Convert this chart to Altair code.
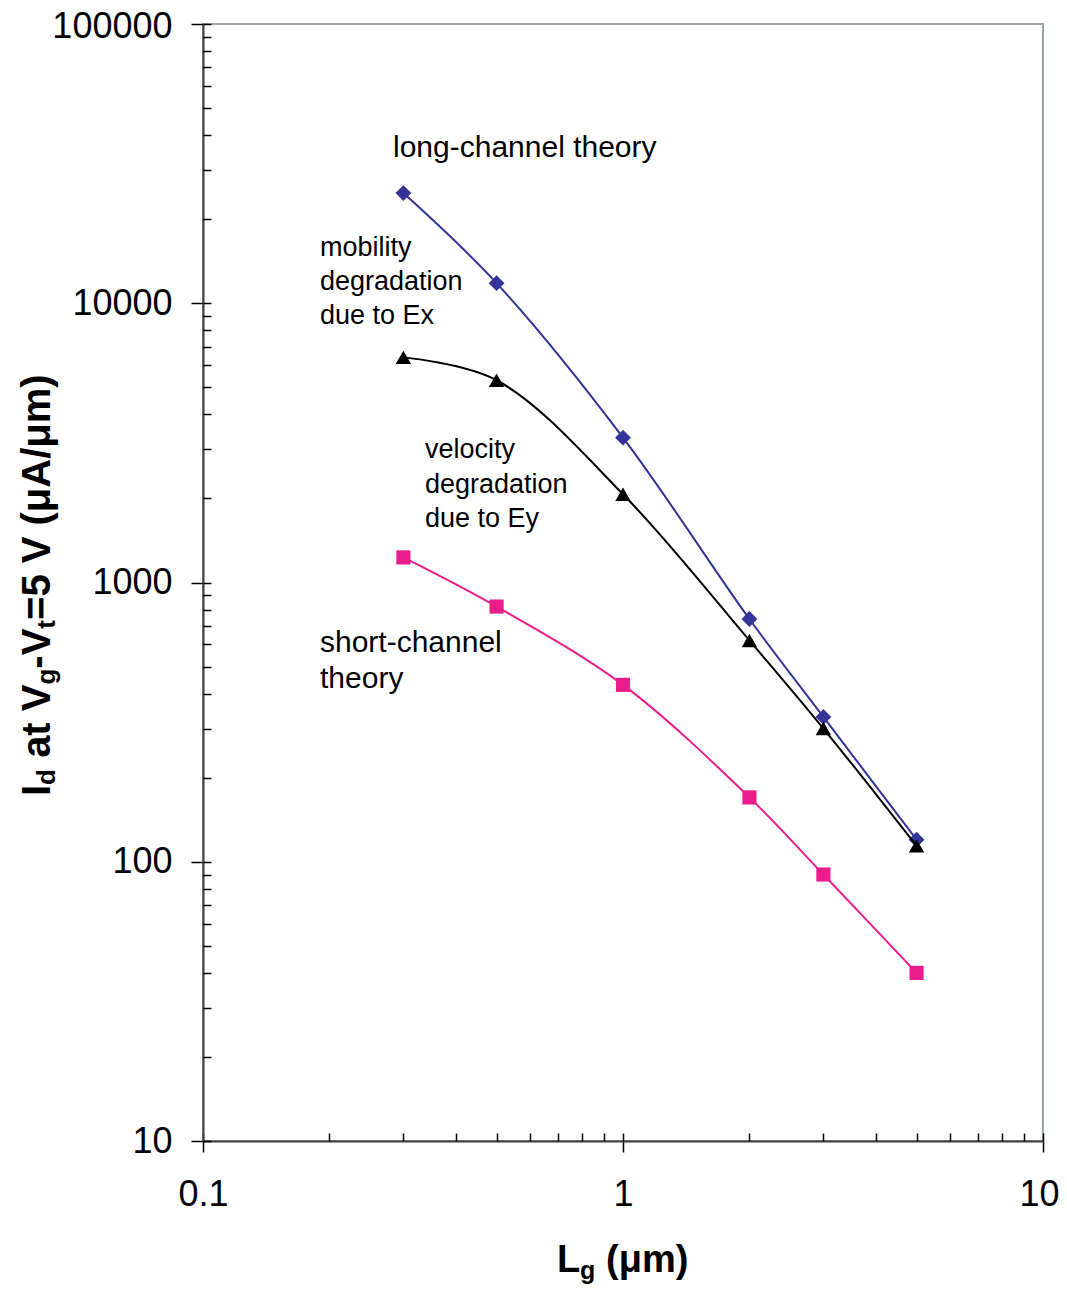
import altair as alt
import pandas as pd

# ---- data ----
lg_um = [0.3, 0.5, 1, 2, 3, 5]
id_long_channel = [24800, 11800, 3300, 740, 330, 120]
id_mobility_velocity = [6400, 5300, 2070, 620, 300, 114]
id_short_channel = [1230, 820, 430, 170, 90, 40]

series_names = ["long-channel theory", "mobility/velocity degradation", "short-channel theory"]
series_values = [id_long_channel, id_mobility_velocity, id_short_channel]

x_major = [0.1, 1, 10]
y_major = [10, 100, 1000, 10000, 100000]

# styles
colors = ["#333399", "#000000", "#EC1C8C"]
shapes = ["diamond", "triangle-up", "square"]
sizes = [250, 240, 200]

W, H = 840, 1117
FONT = "Liberation Sans"

rows = []
for name, vals in zip(series_names, series_values):
    for x, y in zip(lg_um, vals):
        rows.append({"series": name, "Lg": x, "Id": y})
df = pd.DataFrame(rows)

x_minor = [k * 10 ** e for e in (-1, 0) for k in range(1, 10)] + [10]
y_minor = [k * 10 ** e for e in (1, 2, 3, 4) for k in range(1, 10)] + [100000]

xs = alt.Scale(type="log", domain=[0.1, 10], nice=False)
ys = alt.Scale(type="log", domain=[10, 100000], nice=False)

x_axis_main = alt.Axis(orient="bottom", values=x_major, format="~g", title=None, grid=False,
                       tickSize=11, tickWidth=1.5, tickColor="#000000",
                       domainColor="#404040", domainWidth=2,
                       labelFontSize=36, labelFont=FONT, labelColor="#000000",
                       labelPadding=25, labelFlush=False, labelOverlap=False,
                       labelOffset={"condition": {"test": "datum.value == 10", "value": -4}, "value": 0})
y_axis_main = alt.Axis(orient="left", values=y_major, format="d", title=None, grid=False,
                       tickSize=12, tickWidth=1.5, tickColor="#000000",
                       domainColor="#404040", domainWidth=2,
                       labelFontSize=36, labelFont=FONT, labelColor="#000000",
                       labelPadding=19, labelOverlap=False,
                       labelOffset={"condition": {"test": "datum.value == 100000", "value": 2}, "value": 0})
x_axis_minor = alt.Axis(orient="top", offset=-H, values=x_minor, labels=False, domain=False,
                        title=None, grid=False, tickSize=8, tickWidth=1.5, tickColor="#000000")
y_axis_minor = alt.Axis(orient="right", offset=-W, values=y_minor, labels=False, domain=False,
                        title=None, grid=False, tickSize=8, tickWidth=1.5, tickColor="#000000")

layers = []
# axis-carrying layers (invisible)
layers.append(alt.Chart(df).mark_point(opacity=0).encode(
    x=alt.X("Lg:Q", scale=xs, axis=x_axis_main),
    y=alt.Y("Id:Q", scale=ys, axis=y_axis_main)))
layers.append(alt.Chart(df).mark_point(opacity=0).encode(
    x=alt.X("Lg:Q", scale=xs, axis=x_axis_minor),
    y=alt.Y("Id:Q", scale=ys, axis=y_axis_minor)))

for name, col, shp, sz in zip(series_names, colors, shapes, sizes):
    base = alt.Chart(df).transform_filter(alt.datum.series == name)
    layers.append(base.mark_line(interpolate="catmull-rom", strokeWidth=2, color=col).encode(
        x=alt.X("Lg:Q", scale=xs, axis=None),
        y=alt.Y("Id:Q", scale=ys, axis=None)))
    layers.append(base.mark_point(shape=shp, filled=True, opacity=1, size=sz, color=col,
                                  strokeWidth=0).encode(
        x=alt.X("Lg:Q", scale=xs, axis=None),
        y=alt.Y("Id:Q", scale=ys, axis=None)))

one = pd.DataFrame({"a": [0]})

def label(text, x, y, size, bold=False, angle=0):
    kw = dict(text=text, font=FONT, fontSize=size, align="left", baseline="alphabetic",
              color="#000000", fontWeight="bold" if bold else "normal")
    if angle:
        kw["angle"] = angle
    return alt.Chart(one).mark_text(**kw).encode(x=alt.value(x), y=alt.value(y))

OX, OY = 203, 24  # plot origin on the page

# annotations (page pixel positions -> plot pixel positions)
ann = [
    ("long-channel theory", 393, 157, 30),
    ("mobility", 320, 256, 27), ("degradation", 320, 290, 27), ("due to Ex", 320, 324, 27),
    ("velocity", 425, 458, 27), ("degradation", 425, 493, 27), ("due to Ey", 425, 527, 27),
    ("short-channel", 320, 652, 30), ("theory", 320, 688, 30),
]
for t, px, py, fs in ann:
    layers.append(label(t, px - OX, py - OY, fs))

# x title: L_g (µm)
xt_base = 1272 - OY
layers.append(label("L", 354, xt_base, 38, bold=True))
layers.append(label("g", 377, xt_base + 7, 25, bold=True))
layers.append(label("(\u03bcm)", 403, xt_base, 38, bold=True))

# y title: I_d at V_g-V_t=5 V (µA/µm), rotated
yb = 50 - OX
ys0 = 796 - OY
S, s = 40, 26
pieces = [("I", False, 0.278), ("d", True, 0.611), (None, False, 0.278), ("at V", False, 1.834),
          ("g", True, 0.611), ("-V", False, 1.000), ("t", True, 0.333), ("=5 V (\u03bcA/\u03bcm)", False, 6.14)]
pos = ys0
for txt, sub, w in pieces:
    fs = s if sub else S
    if txt is not None:
        layers.append(label(txt, yb + (5 if sub else 0), pos, fs, bold=True, angle=270))
    pos -= w * fs

chart = alt.layer(*layers).resolve_axis(x="independent", y="independent").properties(
    width=W, height=H,
    autosize=alt.AutoSizeParams(type="none"),
    padding={"left": OX - 8, "top": OY - 8, "right": 16, "bottom": 150},
).configure_view(stroke="#9BA3AB", strokeWidth=2)

chart.save("out.html", embed_options={"renderer": "svg", "actions": False})
